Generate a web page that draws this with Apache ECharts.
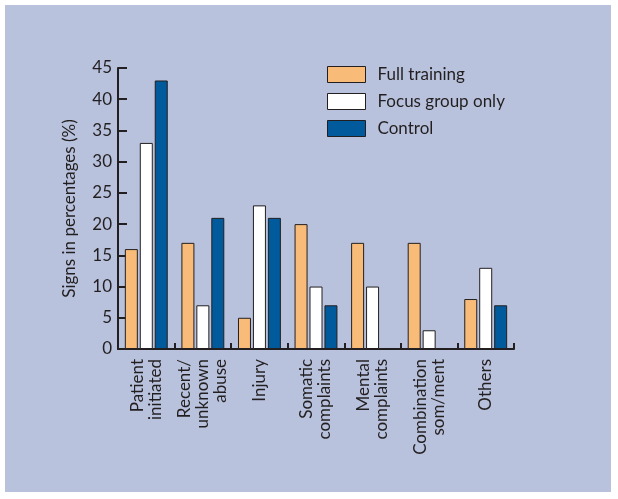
<!DOCTYPE html>
<html>
<head>
<meta charset="utf-8">
<script src="https://cdn.jsdelivr.net/npm/echarts@6/dist/echarts.min.js"></script>
<style>
html,body{margin:0;padding:0;background:#fff;}
#c{width:618px;height:499px;}
</style>
</head>
<body>
<div id="c"></div>
<script>
const categories = ["Patient\ninitiated", "Recent/\nunknown\nabuse", "Injury", "Somatic\ncomplaints", "Mental\ncomplaints", "Combination\nsom/ment", "Others"];
const seriesNames = ["Full training", "Focus group only", "Control"];
const fullTraining = [16, 17, 5, 20, 17, 17, 8];
const focusGroup = [33, 7, 23, 10, 10, 3, 13];
const control = [43, 21, 21, 7, 0, 0, 7];
const yTicks = [0, 5, 10, 15, 20, 25, 30, 35, 40, 45];

const ink = '#231F20';
const font = 'Lato, "Open Sans", sans-serif';
const chart = echarts.init(document.getElementById('c'));
const colors = ['#F9BB78', '#FFFFFF', '#005A9C'];
const data = [fullTraining, focusGroup, control];

chart.setOption({
  backgroundColor: '#ffffff',
  animation: false,
  graphic: [{
    type: 'rect', z: -10, silent: true,
    shape: {x: 5, y: 5, width: 606, height: 487},
    style: {fill: '#B9C2DD'}
  }],
  legend: {
    left: 327, top: 66, orient: 'vertical', padding: 0,
    icon: 'rect',
    itemWidth: 38, itemHeight: 16, itemGap: 10,
    itemStyle: {borderColor: ink, borderWidth: 1},
    textStyle: {color: ink, fontSize: 17, fontFamily: font, padding: [0, 0, 0, 7]},
    data: seriesNames
  },
  grid: {left: 118, right: 104, top: 68, bottom: 150, containLabel: false},
  xAxis: {
    type: 'category', data: categories,
    axisLine: {lineStyle: {color: ink, width: 2}},
    axisTick: {show: true, inside: true, length: 6, lineStyle: {color: ink, width: 2}, alignWithLabel: false},
    axisLabel: {rotate: 90, interval: 0, color: ink, fontSize: 17, fontFamily: font, lineHeight: 18, margin: 10}
  },
  yAxis: {
    type: 'value', min: 0, max: 45, interval: 5,
    name: 'Signs in percentages (%)', nameLocation: 'middle', nameGap: 40, nameRotate: 90,
    nameTextStyle: {color: ink, fontSize: 17, fontFamily: font},
    splitLine: {show: false},
    axisLine: {show: true, lineStyle: {color: ink, width: 2}},
    axisTick: {show: true, inside: true, length: 9, lineStyle: {color: ink, width: 2}},
    axisLabel: {color: ink, fontSize: 17, fontFamily: font, margin: 6,
      formatter: v => yTicks.includes(v) ? String(v) : ''}
  },
  series: seriesNames.map((n, i) => ({
    name: n, type: 'bar', data: data[i],
    barWidth: 13, barGap: '15%',
    itemStyle: {color: colors[i], borderColor: ink, borderWidth: 1}
  }))
});
</script>
</body>
</html>
